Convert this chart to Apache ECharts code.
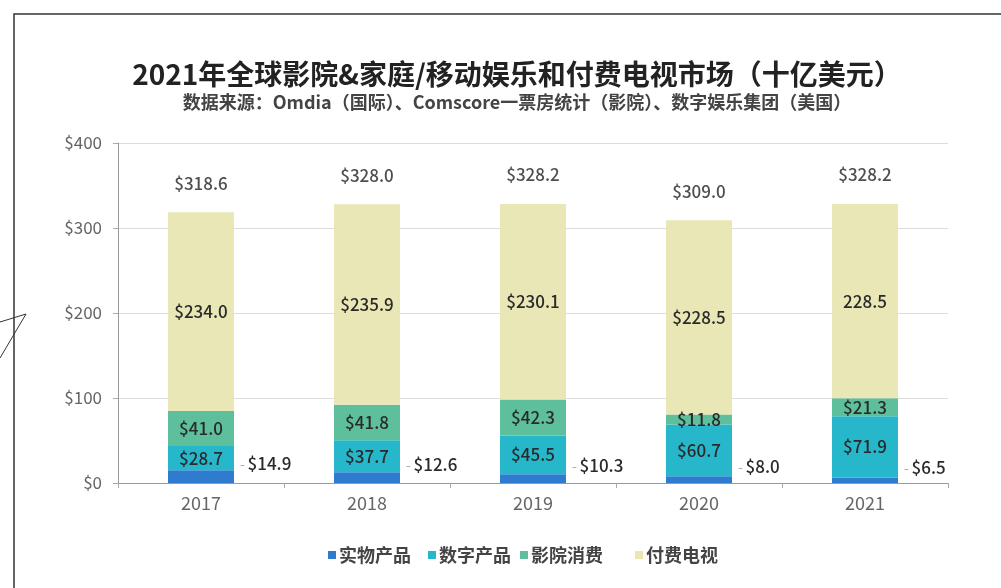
<!DOCTYPE html>
<html>
<head>
<meta charset="utf-8">
<script src="https://cdn.jsdelivr.net/npm/echarts@6/dist/echarts.min.js"></script>
<style>
  html, body { margin: 0; padding: 0; background: #fff; }
  #main { width: 1001px; height: 588px; }
</style>
</head>
<body>
<div id="main"></div>
<script>
// 数据（十亿美元）
var years = ['2017', '2018', '2019', '2020', '2021'];
var physical = [14.9, 12.6, 10.3, 8.0, 6.5];      // 实物产品
var digital = [28.7, 37.7, 45.5, 60.7, 71.9];     // 数字产品
var theatrical = [41.0, 41.8, 42.3, 11.8, 21.3];  // 影院消费
var payTv = [234.0, 235.9, 230.1, 228.5, 228.5];  // 付费电视
var totals = [318.6, 328.0, 328.2, 309.0, 328.2];
var payTvLabels = ['$234.0', '$235.9', '$230.1', '$228.5', '228.5'];
var yTicks = [0, 100, 200, 300, 400];

var colors = ['#2f7bd0', '#27b7cb', '#5dbf9c', '#e9e7b6'];
var names = ['实物产品', '数字产品', '影院消费', '付费电视'];
var legendLeft = [323, 423, 515, 630];

var font = '"Noto Sans CJK SC", "Noto Sans", sans-serif';
var myChart = echarts.init(document.getElementById('main'));

function money(v) { return '$' + v.toFixed(1); }

var inside = {
  show: true,
  position: 'inside',
  color: '#2a2a2a',
  fontSize: 17,
  fontWeight: 500,
  fontFamily: font
};

var option = {
  animation: false,
  backgroundColor: '#fff',
  color: colors,
  title: {
    text: '2021年全球影院&家庭/移动娱乐和付费电视市场（十亿美元）',
    subtext: '数据来源：Omdia（国际）、Comscore一票房统计（影院）、数字娱乐集团（美国）',
    left: 512,
    textAlign: 'center',
    top: 55,
    itemGap: 5,
    textStyle: { fontSize: 28, fontWeight: 'bold', color: '#222', fontFamily: font },
    subtextStyle: { fontSize: 18, fontWeight: 'bold', color: '#444', fontFamily: font }
  },
  legend: names.map(function (n, i) {
    return {
      data: [n],
      left: legendLeft[i],
      top: 541,
      icon: 'rect',
      itemWidth: 8,
      itemHeight: 8,
      itemGap: 4,
      textStyle: { fontSize: 18, fontWeight: 'bold', color: '#444', fontFamily: font, padding: [0, 0, 0, -2] }
    };
  }),
  grid: { left: 118, right: 53, top: 143, bottom: 105 },
  xAxis: {
    type: 'category',
    data: years,
    axisLine: { lineStyle: { color: '#999' } },
    axisTick: { show: true, length: 5, lineStyle: { color: '#aaa' } },
    axisLabel: { fontSize: 18, color: '#666', margin: 11, fontFamily: font }
  },
  yAxis: {
    type: 'value',
    min: yTicks[0],
    max: yTicks[yTicks.length - 1],
    interval: 100,
    axisLine: { show: true, lineStyle: { color: '#999' } },
    axisTick: { show: true, length: 5, lineStyle: { color: '#aaa' } },
    splitLine: { lineStyle: { color: '#dcdcdc' } },
    axisLabel: {
      fontSize: 17, color: '#666', margin: 16, fontFamily: font,
      formatter: function (v) { return '$' + v; }
    }
  },
  series: [
    {
      name: names[0], type: 'bar', stack: 'all', barWidth: 66, data: physical,
      label: {
        show: true,
        position: 'right',
        distance: 6,
        offset: [0, -13],
        fontFamily: font,
        formatter: function (p) { return '{d|-} {v|' + money(p.value) + '}'; },
        rich: {
          d: { color: '#aaa', fontSize: 14 },
          v: { color: '#2a2a2a', fontSize: 17, fontWeight: 500, fontFamily: font }
        }
      }
    },
    {
      name: names[1], type: 'bar', stack: 'all', data: digital,
      label: Object.assign({}, inside, { formatter: function (p) { return money(p.value); } })
    },
    {
      name: names[2], type: 'bar', stack: 'all', data: theatrical,
      label: Object.assign({}, inside, { formatter: function (p) { return money(p.value); } })
    },
    {
      name: names[3], type: 'bar', stack: 'all', data: payTv,
      label: Object.assign({}, inside, { formatter: function (p) { return payTvLabels[p.dataIndex]; } })
    },
    {
      name: '合计', type: 'scatter', data: totals, symbolSize: 1,
      itemStyle: { color: 'rgba(0,0,0,0)' },
      label: {
        show: true, position: 'top', distance: 20,
        color: '#222', fontSize: 17, fontWeight: 500, fontFamily: font,
        formatter: function (p) { return money(p.value); }
      },
      silent: true
    }
  ],
  graphic: [
    {
      type: 'polyline',
      shape: { points: [[14, 588], [14, 14], [1001, 14]] },
      style: { fill: null, stroke: '#333', lineWidth: 1.5 }
    },
    {
      type: 'polyline',
      shape: { points: [[0, 322], [26, 314], [0, 358]] },
      style: { fill: null, stroke: '#333', lineWidth: 1 }
    }
  ]
};

myChart.setOption(option);
</script>
</body>
</html>
